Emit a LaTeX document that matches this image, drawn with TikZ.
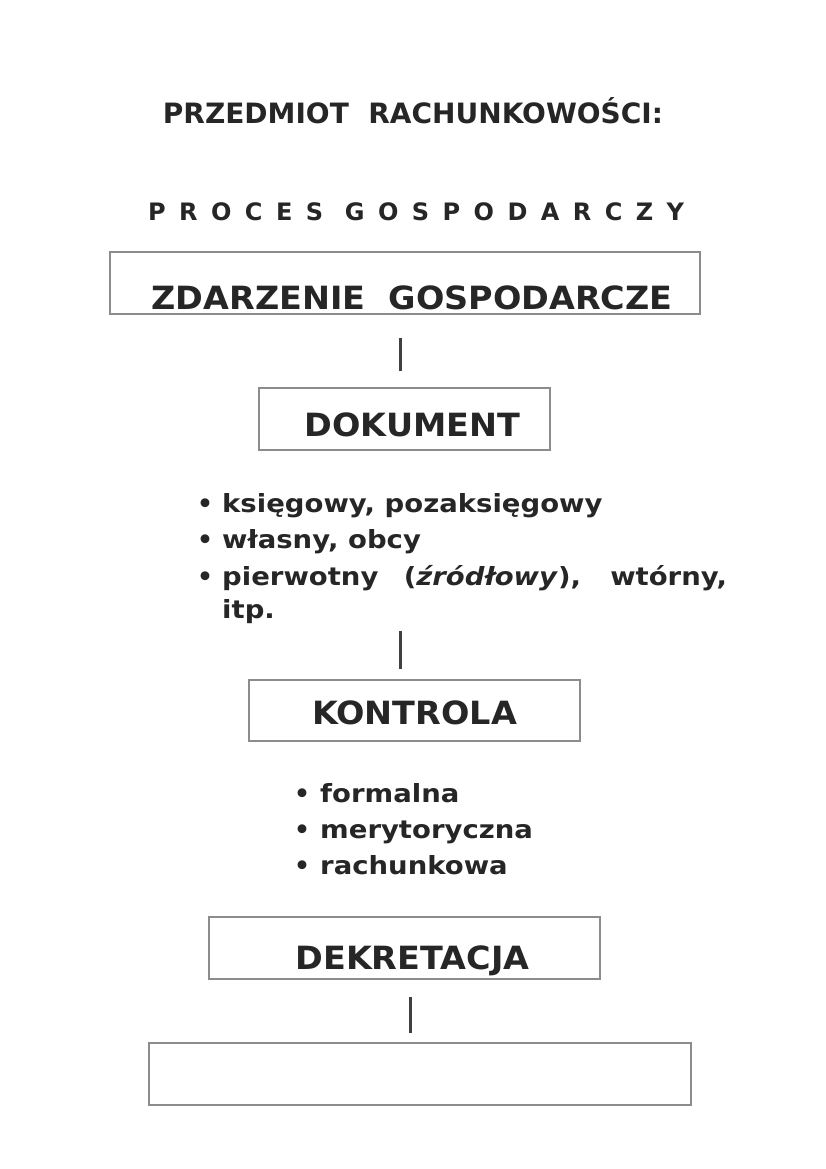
\documentclass[tikz,border=0pt]{standalone}
\usepackage{fontspec}
\setmainfont{DejaVu Sans}
\newcommand{\wide}[1]{\scalebox{1.1}[1]{#1}}
\newcommand{\widelab}[1]{\scalebox{1.045}[1]{#1}}
\begin{document}
\begin{tikzpicture}[x=1pt,y=-1pt,
  box/.style={draw=black!45,line width=1.8pt,inner sep=0pt,rectangle},
  conn/.style={draw=black!75,line width=3pt},
  lab/.style={inner sep=0pt,anchor=base,font=\bfseries\fontsize{32}{32}\selectfont,text=black!85},
  itm/.style={inner sep=0pt,anchor=base west,font=\bfseries\fontsize{25}{25}\selectfont,text=black!85}]
\useasboundingbox (0,0) rectangle (826,1169);
% titles
\node[inner sep=0pt,anchor=base,font=\bfseries\fontsize{28}{28}\selectfont,text=black!85] (title) at (413,124) {PRZEDMIOT\ \ RACHUNKOWOŚCI:};
\node[inner sep=0pt,anchor=base west,font=\bfseries\fontsize{24}{24}\selectfont\addfontfeature{LetterSpace=56},text=black!85] (proc) at (148,220) {PROCES GOSPODARCZY};
% boxes
\node[box,minimum width=590pt,minimum height=62pt] (b1) at (405,283) {};
\node[lab] (t1) at (412,309) {\widelab{ZDARZENIE\ \ GOSPODARCZE}};
\node[box,minimum width=291pt,minimum height=62pt] (b2) at (404.5,419) {};
\node[lab] (t2) at (412.5,436) {\widelab{DOKUMENT}};
\node[box,minimum width=331pt,minimum height=61pt] (b3) at (414.5,710.5) {};
\node[lab] (t3) at (414.5,724) {\widelab{KONTROLA}};
\node[box,minimum width=391pt,minimum height=62pt] (b4) at (404.5,948) {};
\node[lab] (t4) at (412.5,969) {\widelab{DEKRETACJA}};
\node[box,minimum width=542pt,minimum height=62pt] (b5) at (420,1074) {};
% bullet list 1
\node[itm] (d1) at (197,512) {•};
\node[itm] (i1) at (222,512) {\wide{księgowy, pozaksięgowy}};
\node[itm] (d2) at (197,548) {•};
\node[itm] (i2) at (222,548) {\wide{własny, obcy}};
\node[itm] (d3) at (197,585) {•};
\node[itm] (i3) at (222,585) {\wide{\makebox[459pt][s]{pierwotny (\textit{źródłowy}), wtórny,}}};
\node[itm] (i4) at (222,618) {\wide{itp.}};
% bullet list 2
\node[itm] (e1) at (294,802) {•};
\node[itm] (j1) at (320,802) {\wide{formalna}};
\node[itm] (e2) at (294,838) {•};
\node[itm] (j2) at (320,838) {\wide{merytoryczna}};
\node[itm] (e3) at (294,874) {•};
\node[itm] (j3) at (320,874) {\wide{rachunkowa}};
% connectors
\coordinate (c2) at (400,631);
\draw[conn,shorten <=23pt,shorten >=16pt] ([xshift=-5pt]b1.south) -- ([xshift=-4.5pt]b2.north);
\draw[conn,shorten >=10pt] (c2) -- ([xshift=-14.5pt]b3.north);
\draw[conn,shorten <=17pt,shorten >=9pt] ([xshift=5.5pt]b4.south) -- ([xshift=-10pt]b5.north);
\end{tikzpicture}
\end{document}
